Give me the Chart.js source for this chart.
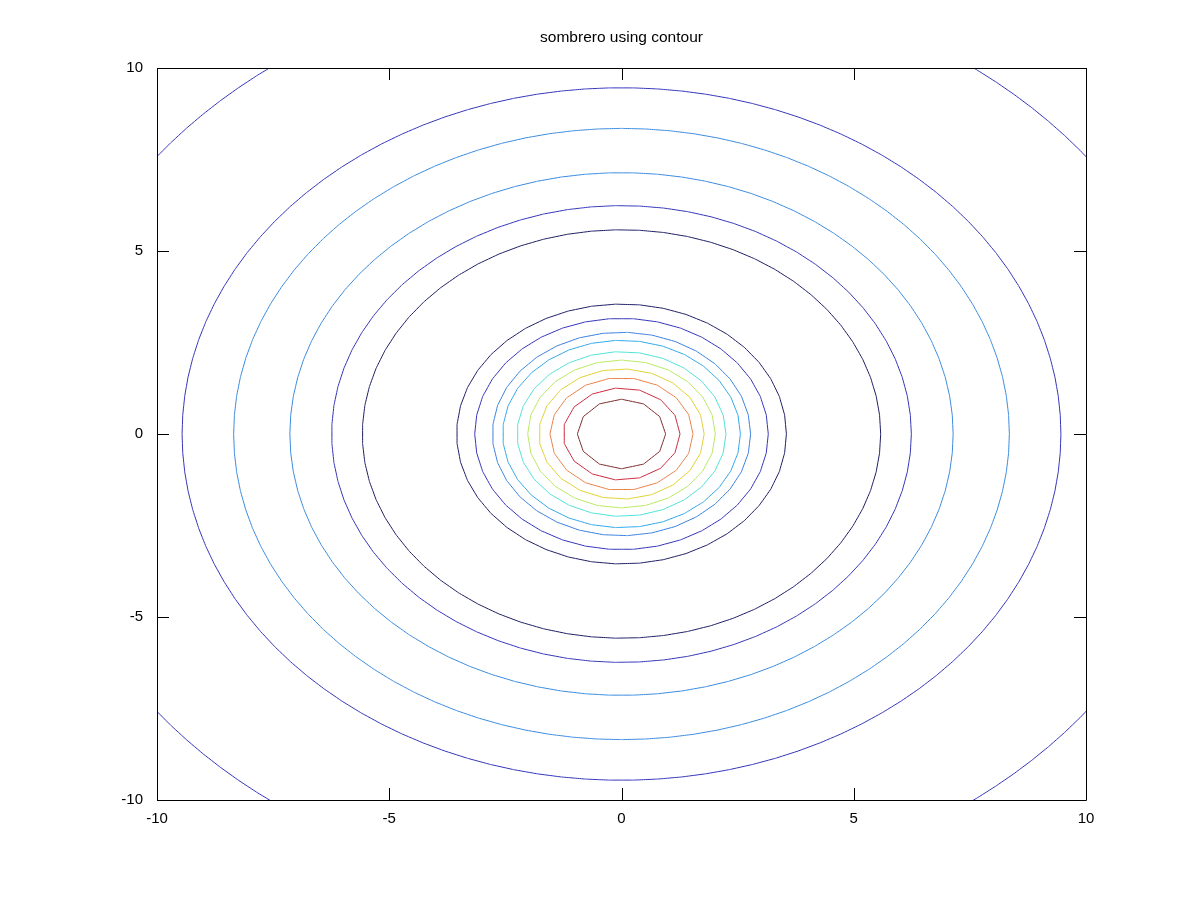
<!DOCTYPE html>
<html>
<head>
<meta charset="utf-8">
<title>sombrero using contour</title>
<script src="https://cdn.jsdelivr.net/npm/chart.js@4.4.1/dist/chart.umd.min.js"></script>
<style>
    html, body { margin: 0; padding: 0; background: #ffffff; }
    #chart { display: block; }
</style>
</head>
<body>
<canvas id="chart" width="1200" height="900"></canvas>
<script>
// contour rings (radius in data units, centre at 0,0)
const ringRadii = [0.95, 1.26, 1.54, 1.78, 2.02, 2.25, 2.56, 2.78, 3.16, 3.55, 5.58, 6.24, 7.14, 8.35, 9.46, 12.55];
const ringColors = [
    '#7f2a2a', '#c8283c', '#e8804a', '#e0d030', '#b8e860', '#50e0d8', '#30a8e8', '#3a7fdc',
    '#3434b8', '#1e1e64', '#1e1e64', '#3434b8', '#3a8ade', '#3a8ade', '#3434b8', '#3434b8'
];
const xTicks = [-10, -5, 0, 5, 10];
const yTicks = [-10, -5, 0, 5, 10];
const chartTitle = 'sombrero using contour';

const FONT = "'Liberation Sans', Arial, sans-serif";

// each ring is a closed polygon around the origin
function ringPoints(r) {
    const n = Math.max(12, Math.round(r * 12));
    const pts = [];
    for (let i = 0; i <= n; i++) {
        const a = (i / n) * Math.PI * 2;
        pts.push({ x: r * Math.cos(a), y: r * Math.sin(a) });
    }
    return pts;
}

const datasets = ringRadii.map((r, i) => ({
    data: ringPoints(r),
    showLine: true,
    borderColor: ringColors[i],
    borderWidth: 1,
    pointRadius: 0,
    tension: 0.000001, // keeps Chart.js off its fast path, which smears vertical runs
    fill: false
}));

// box frame with inward tick marks on all four sides, plus the title over the plot box
const frameTicks = {
    id: 'frameTicks',
    afterDraw(chart) {
        const { ctx, chartArea: a, scales } = chart;
        const len = 12;
        ctx.save();
        ctx.strokeStyle = '#000000';
        ctx.lineWidth = 1;
        ctx.beginPath();
        ctx.rect(Math.round(a.left) + 0.5, Math.round(a.top) + 0.5,
                 Math.round(a.right) - Math.round(a.left), Math.round(a.bottom) - Math.round(a.top));
        xTicks.forEach(v => {
            const px = Math.round(scales.x.getPixelForValue(v)) + 0.5;
            ctx.moveTo(px, a.bottom);
            ctx.lineTo(px, a.bottom - len);
            ctx.moveTo(px, a.top);
            ctx.lineTo(px, a.top + len);
        });
        yTicks.forEach(v => {
            const py = Math.round(scales.y.getPixelForValue(v)) + 0.5;
            ctx.moveTo(a.left, py);
            ctx.lineTo(a.left + len, py);
            ctx.moveTo(a.right, py);
            ctx.lineTo(a.right - len, py);
        });
        ctx.stroke();

        ctx.fillStyle = '#000000';
        ctx.font = '15.5px ' + FONT;
        ctx.textAlign = 'center';
        ctx.textBaseline = 'middle';
        ctx.fillText(chartTitle, (a.left + a.right) / 2, 37.5);
        ctx.restore();
    }
};

new Chart(document.getElementById('chart').getContext('2d'), {
    type: 'scatter',
    data: { datasets: datasets },
    options: {
        responsive: false,
        animation: false,
        layout: { padding: { left: 0, right: 114, top: 68, bottom: 0 } },
        plugins: {
            legend: { display: false },
            tooltip: { enabled: false },
            title: { display: false }
        },
        scales: {
            x: {
                type: 'linear',
                min: -10,
                max: 10,
                afterBuildTicks: scale => { scale.ticks = xTicks.map(v => ({ value: v })); },
                afterFit: scale => { scale.height = 100; },
                grid: { display: false, drawTicks: false },
                border: { display: false },
                ticks: {
                    color: '#000000',
                    padding: 10,
                    maxRotation: 0,
                    autoSkip: false,
                    font: { family: FONT, size: 15 }
                }
            },
            y: {
                type: 'linear',
                min: -10,
                max: 10,
                afterBuildTicks: scale => { scale.ticks = yTicks.map(v => ({ value: v })); },
                afterFit: scale => { scale.width = 157; },
                grid: { display: false, drawTicks: false },
                border: { display: false },
                ticks: {
                    color: '#000000',
                    padding: 14,
                    autoSkip: false,
                    font: { family: FONT, size: 15 }
                }
            }
        }
    },
    plugins: [frameTicks]
});
</script>
</body>
</html>
